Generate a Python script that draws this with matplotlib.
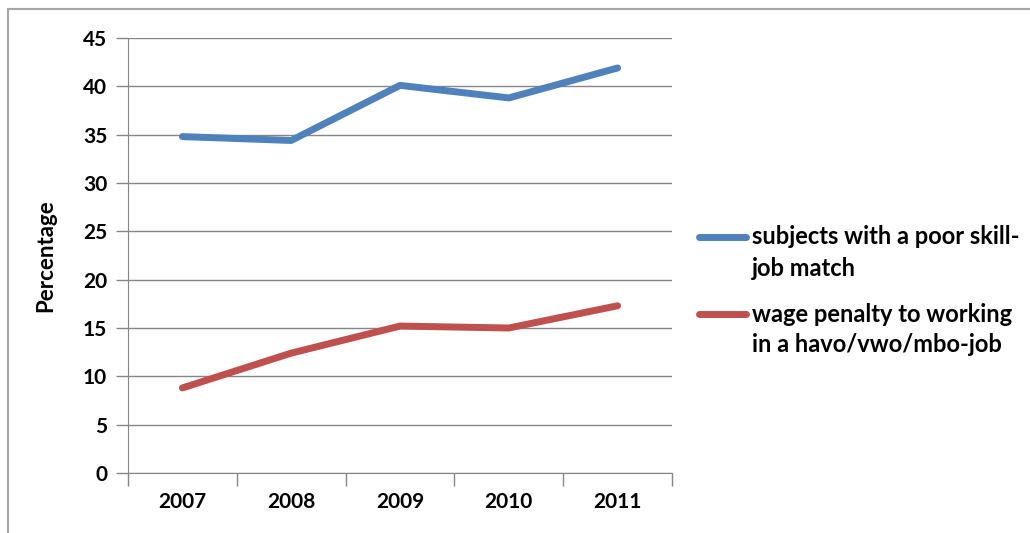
import matplotlib.pyplot as plt
from matplotlib.lines import Line2D

years = ['2007', '2008', '2009', '2010', '2011']
poor_match = [34.8, 34.4, 40.1, 38.8, 41.9]
wage_penalty = [8.8, 12.4, 15.2, 15.0, 17.3]
labels = [['subjects with a poor skill-', 'job match'],
          ['wage penalty to working', 'in a havo/vwo/mbo-job']]
colors = ['#4F81BD', '#C0504D']

plt.rcParams['font.family'] = ['Lato', 'DejaVu Sans']
plt.rcParams['font.weight'] = 'bold'

W, H = 1030, 533
fig = plt.figure(figsize=(W / 100, H / 100), dpi=100)
ax = fig.add_axes([128 / W, 1 - 473 / H, 544 / W, 435 / H])

x = range(len(years))
ax.plot(x, poor_match, color=colors[0], lw=5, solid_capstyle='round')
ax.plot(x, wage_penalty, color=colors[1], lw=5, solid_capstyle='round')

ax.set_xlim(-0.5, len(years) - 0.5)
ax.set_ylim(0, 45)
ax.set_yticks(range(0, 46, 5))
ax.set_xticks([i - 0.5 for i in range(len(years) + 1)])
ax.set_xticklabels([])
ax.set_xticks(list(x), minor=True)
ax.set_xticklabels(years, minor=True, fontsize=15, fontweight='bold')
ax.tick_params(axis='x', which='minor', length=0, pad=14)
ax.tick_params(axis='x', which='major', length=9, color='#868686', width=1)
ax.tick_params(axis='y', length=9, color='#868686', width=1, labelsize=15, pad=6)
for lbl in ax.get_yticklabels():
    lbl.set_fontweight('bold')
ax.yaxis.grid(True, color='#868686', lw=1)
ax.set_axisbelow(True)
for s in ['top', 'right']:
    ax.spines[s].set_visible(False)
for s in ['left', 'bottom']:
    ax.spines[s].set_color('#868686')
ax.set_ylabel('Percentage', fontsize=16, fontweight='bold', labelpad=19)

# legend drawn by hand so the key sits next to the first text line
row_y = [237, 314]
for lines, col, y0 in zip(labels, colors, row_y):
    fig.add_artist(Line2D([699 / W, 746 / W], [1 - y0 / H] * 2, color=col, lw=5,
                          solid_capstyle='round'))
    for k, t in enumerate(lines):
        fig.text(752 / W, 1 - (y0 + 31 * k) / H, t, fontsize=17, fontweight='bold',
                 va='center', ha='left')

# outer chart frame (top and left edges visible)
fig.add_artist(Line2D([8 / W, 1], [1 - 9 / H] * 2, color='#a6a6a6', lw=1.5))
fig.add_artist(Line2D([8 / W, 8 / W], [0, 1 - 9 / H], color='#a6a6a6', lw=1.5))

fig.savefig('out.png', dpi=100)
